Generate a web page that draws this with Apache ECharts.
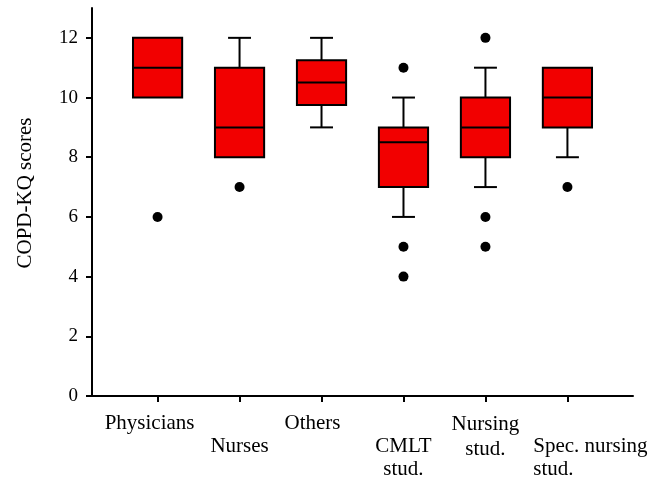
<!DOCTYPE html>
<html>
<head>
<meta charset="utf-8">
<script src="https://cdn.jsdelivr.net/npm/echarts@6/dist/echarts.min.js"></script>
<style>
  html, body { margin: 0; padding: 0; background: #fff; }
  #chart { width: 660px; height: 482px; }
</style>
</head>
<body>
<div id="chart"></div>
<script>
// ---- Data ----
const categories = ['Physicians', 'Nurses', 'Others', 'CMLT\nstud.', 'Nursing\nstud.', 'Spec. nursing\nstud.'];
const whiskerLow  = [10, 8, 9, 6, 7, 8];
const q1          = [10, 8, 9.75, 7, 8, 9];
const median      = [11, 9, 10.5, 8.5, 9, 10];
const q3          = [12, 11, 11.25, 9, 10, 11];
const whiskerHigh = [12, 12, 12, 10, 11, 11];
const outliers    = [[6], [7], [], [11, 5, 4], [12, 6, 5], [7]];
const yTicks      = [0, 2, 4, 6, 8, 10, 12];
const labelRow    = [1, 2, 1, 2, 1, 2];

// ---- Build series data ----
const positions = categories.map((c, i) => i + 1);
const row1Pos = positions.filter((p, i) => labelRow[i] === 1);
const row2Pos = positions.filter((p, i) => labelRow[i] === 2);
const boxData = positions.map((x, i) => [x, whiskerLow[i], q1[i], median[i], q3[i], whiskerHigh[i]]);
const outlierData = [];
outliers.forEach((arr, i) => arr.forEach(v => outlierData.push([positions[i], v])));

const richStyles = {
  p: { padding: [0, 16, 0, 0] },
  o: { padding: [0, 18, 0, 0] },
  n: { lineHeight: 25 },
  s: { align: 'left', padding: [0, 0, 0, 46] }
};

function formatLabel(v) {
  const i = Math.round(v) - 1;
  if (i < 0 || i >= categories.length) return '';
  const name = categories[i];
  const lines = name.split('\n');
  if (i === 0) return '{p|' + name + '}';
  if (i === 2) return '{o|' + name + '}';
  if (i === 4) return lines.map(l => '{n|' + l + '}').join('\n');
  if (i === 5) return lines.map(l => '{s|' + l + '}').join('\n');
  return name;
}

const chart = echarts.init(document.getElementById('chart'), null, { renderer: 'canvas' });
const FONT = 'Liberation Serif';

function labelStyle(vals, margin) {
  return {
    customValues: vals,
    formatter: formatLabel,
    fontFamily: FONT,
    fontSize: 21,
    color: '#000',
    lineHeight: 23,
    margin: margin,
    verticalAlign: 'top',
    align: 'center',
    showMinLabel: true,
    showMaxLabel: true,
    hideOverlap: false,
    rich: richStyles
  };
}

chart.setOption({
  animation: false,
  backgroundColor: '#fff',
  grid: { left: 92, right: 27, top: 8, bottom: 86, containLabel: false },
  xAxis: [
    {
      type: 'value',
      min: 0.2,
      max: 6.8,
      position: 'bottom',
      splitLine: { show: false },
      axisLine: { show: true, onZero: false, lineStyle: { color: '#000', width: 2 } },
      axisTick: { show: true, customValues: positions, length: 6, inside: false, lineStyle: { color: '#000', width: 2 } },
      axisLabel: labelStyle(row1Pos, 16)
    },
    {
      type: 'value',
      min: 0.2,
      max: 6.8,
      position: 'bottom',
      offset: 0,
      splitLine: { show: false },
      axisLine: { show: false, onZero: false },
      axisTick: { show: false },
      axisLabel: labelStyle(row2Pos, 39)
    }
  ],
  yAxis: {
    type: 'value',
    min: 0,
    max: 13,
    name: 'COPD-KQ scores',
    nameLocation: 'middle',
    nameGap: 56,
    nameTextStyle: { fontFamily: FONT, fontSize: 21, color: '#000', padding: [0, 0, 0, 18] },
    splitLine: { show: false },
    axisLine: { show: true, lineStyle: { color: '#000', width: 2 } },
    axisTick: { show: true, customValues: yTicks, length: 6, inside: false, lineStyle: { color: '#000', width: 2 } },
    axisLabel: {
      customValues: yTicks,
      fontFamily: FONT,
      fontSize: 19,
      color: '#000',
      margin: 14
    }
  },
  series: [
    {
      type: 'custom',
      xAxisIndex: 0,
      data: boxData,
      encode: { x: 0, y: [1, 2, 3, 4, 5] },
      renderItem: function (params, api) {
        const x = api.value(0);
        const lo = api.value(1), b1 = api.value(2), md = api.value(3), b3 = api.value(4), hi = api.value(5);
        const boxW = api.size([0.6, 0])[0];
        const capW = api.size([0.28, 0])[0];
        const pLo = api.coord([x, lo]);
        const pQ1 = api.coord([x, b1]);
        const pMd = api.coord([x, md]);
        const pQ3 = api.coord([x, b3]);
        const pHi = api.coord([x, hi]);
        const cx = pQ1[0];
        const lineStyle = { stroke: '#000', lineWidth: 2 };
        const children = [];
        if (lo < b1) {
          children.push({ type: 'line', shape: { x1: cx, y1: pQ1[1], x2: cx, y2: pLo[1] }, style: lineStyle });
          children.push({ type: 'line', shape: { x1: cx - capW / 2, y1: pLo[1], x2: cx + capW / 2, y2: pLo[1] }, style: lineStyle });
        }
        if (hi > b3) {
          children.push({ type: 'line', shape: { x1: cx, y1: pQ3[1], x2: cx, y2: pHi[1] }, style: lineStyle });
          children.push({ type: 'line', shape: { x1: cx - capW / 2, y1: pHi[1], x2: cx + capW / 2, y2: pHi[1] }, style: lineStyle });
        }
        children.push({
          type: 'rect',
          shape: { x: cx - boxW / 2, y: pQ3[1], width: boxW, height: pQ1[1] - pQ3[1] },
          style: { fill: '#f20000', stroke: '#000', lineWidth: 2 }
        });
        children.push({ type: 'line', shape: { x1: cx - boxW / 2, y1: pMd[1], x2: cx + boxW / 2, y2: pMd[1] }, style: lineStyle });
        return { type: 'group', children: children };
      }
    },
    {
      type: 'scatter',
      xAxisIndex: 0,
      data: outlierData,
      symbol: 'circle',
      symbolSize: 10,
      itemStyle: { color: '#000', opacity: 1 }
    }
  ]
});
</script>
</body>
</html>
